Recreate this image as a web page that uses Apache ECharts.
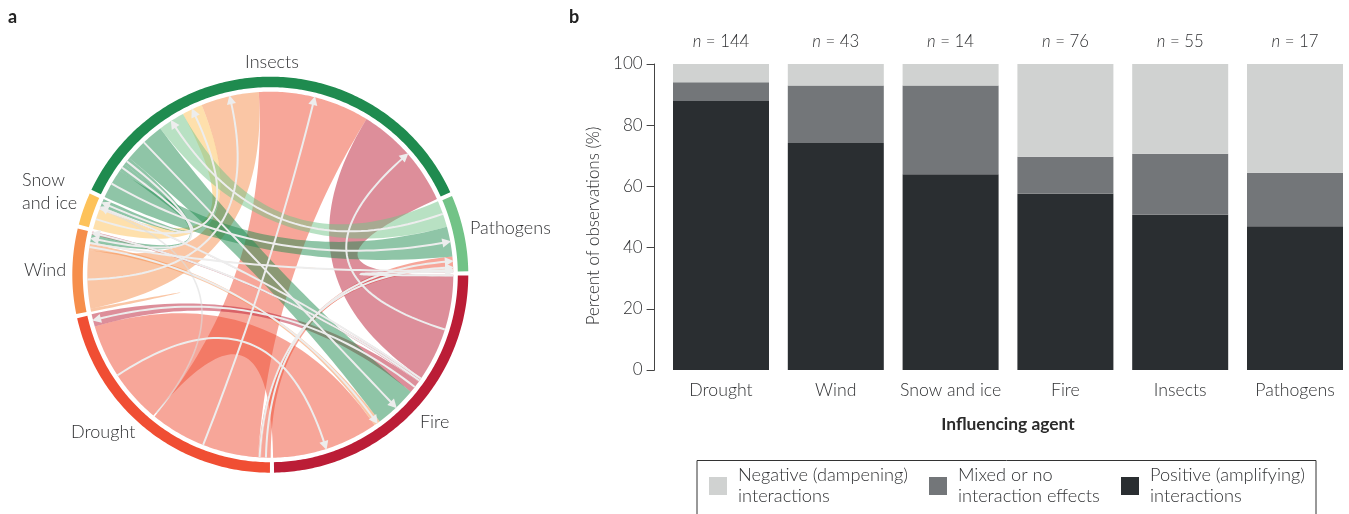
<!DOCTYPE html>
<html><head><meta charset="utf-8">
<style>html,body{margin:0;padding:0;background:#fff}#c{width:1349px;height:514px}</style>
<script src="https://cdn.jsdelivr.net/npm/echarts@6/dist/echarts.min.js"></script>
</head><body><div id="c"></div>
<script>
// ---------- panel a: interactions between agents (counts of observations) ----------
const agentKeys  = ['F','D','W','S','I','P'];
const agentNames = ['Fire','Drought','Wind','Snow and ice','Insects','Pathogens'];
const agentColors = ['#bb1d36','#f04e33','#f68e4b','#fdc25a','#1f8b4f','#72c387'];

const linkNames = ['D>F','D>I','D>P1','D>P2','W>W','W>I','W>F','W>P','S>I','S>D','F>I','F>D','F>S','F>W','F>P','I>F','I>P','I>S','I>W','P>I'];
const linkFrom  = ['D','D','D','D','W','W','W','W','S','S','F','F','F','F','F','I','I','I','I','P'];
const linkTo    = ['F','I','P','P','W','I','F','P','I','D','I','D','S','W','P','F','P','S','W','I'];
const linkObs   = [68,71,6,2,1,37,4,1,13,1,68,8,1,2,1,27,19,5,5,17];

// clockwise order of ribbon ends inside every agent's arc
const orderF = ['F>P','F>I','F>S','F>W','F>D','I>F','W>F','D>F'];
const orderD = ['D>P1','D>P2','D>I','S>D','D>F','F>D'];
const orderW = ['W>W','W>W','W>I','W>F','W>P','I>W','F>W'];
const orderS = ['S>I','S>D','F>S','I>S'];
const orderI = ['I>P','I>S','I>W','I>F','P>I','S>I','W>I','D>I','F>I'];
const orderP = ['P>I','I>P','D>P1','D>P2','W>P','F>P'];
const faintLinks = ['S>D'];
const gapObs = 1.5;

// ---------- panel b ----------
const categories = ['Drought','Wind','Snow and ice','Fire','Insects','Pathogens'];
const nObs = [144,43,14,76,55,17];
const positive = [87.9,74.2,64,57.6,50.7,47];
const mixed    = [6.1,18.8,29,12.1,20,17.5];
const negative = [6,7,7,30.3,29.3,35.5];
const yTicks = [0,20,40,60,80,100];
const legendNeg = 'Negative (dampening)\ninteractions';
const legendMix = 'Mixed or no\ninteraction effects';
const legendPos = 'Positive (amplifying)\ninteractions';

// ---------- layout of the chord from the counts ----------
const orders = [orderF,orderD,orderW,orderS,orderI,orderP];
const ends = {}; const arcs = [];
let cursor = 0;
orders.forEach(function(ord,ai){
  const start = cursor; const key = agentKeys[ai];
  ord.forEach(function(name){
    const li = linkNames.indexOf(name); const v = linkObs[li];
    const e = ends[name] || (ends[name] = {});
    const range = [cursor,cursor+v];
    if (linkFrom[li]===key && !e.s) e.s = range; else e.t = range;
    cursor += v;
  });
  arcs.push([start,cursor]);
  cursor += gapObs;
});
const fullCircle = cursor;

const R_OUT=198, R_IN=187.5, R_RIB=183, RING_INSET=0.45;
const FONT='Lato, "Open Sans", sans-serif', INK='#303133';
function arcPts(api,r,a0,a1){
  const n=Math.max(2,Math.ceil(Math.abs(a1-a0)/1.5)+1), out=[];
  for(let i=0;i<n;i++) out.push(api.coord([r,a0+(a1-a0)*i/(n-1)]));
  return out;
}
function bez(p0,c,p2){
  const out=[];
  for(let i=0;i<=48;i++){const t=i/48,u=1-t;
    out.push([u*u*p0[0]+2*u*t*c[0]+t*t*p2[0],u*u*p0[1]+2*u*t*c[1]+t*t*p2[1]]);}
  return out;
}
function renderRing(params,api){
  const a=arcs[params.dataIndex], a0=a[0]+RING_INSET, a1=a[1]-RING_INSET;
  return {type:'polygon',shape:{points:arcPts(api,R_OUT,a0,a1).concat(arcPts(api,R_IN,a1,a0))},
    style:{fill:agentColors[params.dataIndex]}};
}
function renderRibbon(params,api){
  const name=linkNames[params.dataIndex], e=ends[name];
  const col=agentColors[agentKeys.indexOf(linkFrom[params.dataIndex])];
  const c=api.coord([0,0]);
  const sa=arcPts(api,R_RIB,e.s[0],e.s[1]), ta=arcPts(api,R_RIB,e.t[0],e.t[1]);
  const pts=sa.concat(bez(sa[sa.length-1],c,ta[0]),ta,bez(ta[ta.length-1],c,sa[0]));
  return {type:'polygon',shape:{points:pts},style:{fill:col,opacity:faintLinks.indexOf(name)>=0?0:0.5}};
}
function renderLine(params,api){
  const name=linkNames[params.dataIndex], e=ends[name];
  if(linkFrom[params.dataIndex]===linkTo[params.dataIndex]) return {type:'group',children:[]};
  const faint=faintLinks.indexOf(name)>=0;
  const sm=(e.s[0]+e.s[1])/2, tm=(e.t[0]+e.t[1])/2;
  const c=api.coord([0,0]);
  const p0=api.coord([R_RIB,sm]), p2=api.coord([R_RIB-4,tm]);
  const kids=[{type:'polyline',shape:{points:bez(p0,c,p2)},
    style:{fill:null,stroke:faint?'#dcdcdc':'#ededed',lineWidth:faint?1.6:2,opacity:faint?0.6:1}}];
  if(!faint){
    const tip=api.coord([R_RIB+1,tm]), base=api.coord([R_RIB-8,tm]);
    const dx=tip[0]-base[0], dy=tip[1]-base[1], L=Math.hypot(dx,dy)||1, nx=-dy/L*4.6, ny=dx/L*4.6;
    kids.push({type:'polygon',shape:{points:[tip,[base[0]+nx,base[1]+ny],[base[0]-nx,base[1]-ny]]},style:{fill:'#ededed'}});
  }
  return {type:'group',children:kids};
}
const txt=(t,x,y,extra)=>({type:'text',x:x,y:y,silent:true,style:Object.assign({text:t,font:'300 18px '+FONT,fill:INK,textVerticalAlign:'middle'},extra||{})});

const barSeries=(name,data,color)=>({type:'bar',name:name,data:data,stack:'a',barWidth:96,xAxisIndex:0,yAxisIndex:0,
  itemStyle:{color:color},silent:true,animation:false});

const chart=echarts.init(document.getElementById('c'),null,{renderer:'canvas'});
chart.setOption({
  animation:false,backgroundColor:'#fff',
  polar:{center:[270.3,274.7],radius:R_OUT},
  angleAxis:{show:false,type:'value',min:0,max:fullCircle,startAngle:0,clockwise:true},
  radiusAxis:{show:false,type:'value',min:0,max:R_OUT},
  grid:{left:663.6,top:64,width:688.8,height:306,containLabel:false,outerBoundsMode:'none'},
  xAxis:[
    {type:'category',data:categories,position:'bottom',name:'Influencing agent',nameLocation:'middle',nameGap:46,
     nameTextStyle:{fontFamily:FONT,fontWeight:700,fontSize:17.4,color:'#2b2b2b'},
     axisLine:{show:false},axisTick:{show:false},
     axisLabel:{margin:11,fontFamily:FONT,fontWeight:300,fontSize:17.7,color:INK,interval:0}},
    {type:'category',data:nObs.map(String),position:'top',
     axisLine:{show:false},axisTick:{show:false},
     axisLabel:{margin:14,interval:0,fontFamily:FONT,fontWeight:300,fontSize:16.8,color:INK,
       formatter:v=>'{i|n} = '+v,rich:{i:{fontStyle:'italic',fontFamily:FONT,fontWeight:300,fontSize:16.8,color:INK}}}}
  ],
  yAxis:{type:'value',min:yTicks[0],max:yTicks[yTicks.length-1],interval:20,offset:9,
    name:'Percent of observations (%)',nameLocation:'middle',nameGap:50,
    nameTextStyle:{fontFamily:FONT,fontWeight:300,fontSize:16.9,color:INK,padding:[0,18,0,0]},
    axisLine:{show:true,lineStyle:{color:'#444',width:1}},axisTick:{show:true,length:8,lineStyle:{color:'#444',width:1}},
    axisLabel:{margin:12,fontFamily:FONT,fontWeight:300,fontSize:17,color:INK},splitLine:{show:false}},
  legend:[
    {left:709,top:465,data:[legendNeg]},{left:929,top:465,data:[legendMix]},{left:1121,top:465,data:[legendPos]}
  ].map(l=>Object.assign(l,{icon:'rect',itemWidth:18,itemHeight:18,selectedMode:false,padding:0,
    textStyle:{fontFamily:FONT,fontWeight:300,fontSize:18.2,lineHeight:21,color:INK,padding:[0,0,0,6]}})),
  series:[
    {type:'custom',name:'ribbons',coordinateSystem:'polar',renderItem:renderRibbon,data:linkNames.map(()=>[0,0]),silent:true,clip:false},
    {type:'custom',name:'centre lines',coordinateSystem:'polar',renderItem:renderLine,data:linkNames.map(()=>[0,0]),silent:true,clip:false},
    {type:'custom',name:'agents',coordinateSystem:'polar',renderItem:renderRing,data:agentNames.map(()=>[0,0]),silent:true,clip:false},
    barSeries(legendPos,positive,'#2a2e31'),
    barSeries(legendMix,mixed,'#737679'),
    barSeries(legendNeg,negative,'#d0d2d1')
  ],
  graphic:[
    txt('a',8,17,{font:'700 18px '+FONT,fill:'#222'}),
    txt('b',569,17,{font:'700 18px '+FONT,fill:'#222'}),
    txt('Insects',272,62.5,{textAlign:'center'}),
    txt('Pathogens',470,228.5,{}),
    txt('Fire',420,422.5,{}),
    txt('Drought',71,432.5,{}),
    txt('Wind',24,270.5,{}),
    txt('Snow',22,180.5,{}),
    txt('and ice',22,203.5,{}),
    {type:'rect',silent:true,shape:{x:697,y:460.5,width:619,height:70},style:{fill:'none',stroke:'#333',lineWidth:1}}
  ]
});
</script></body></html>
